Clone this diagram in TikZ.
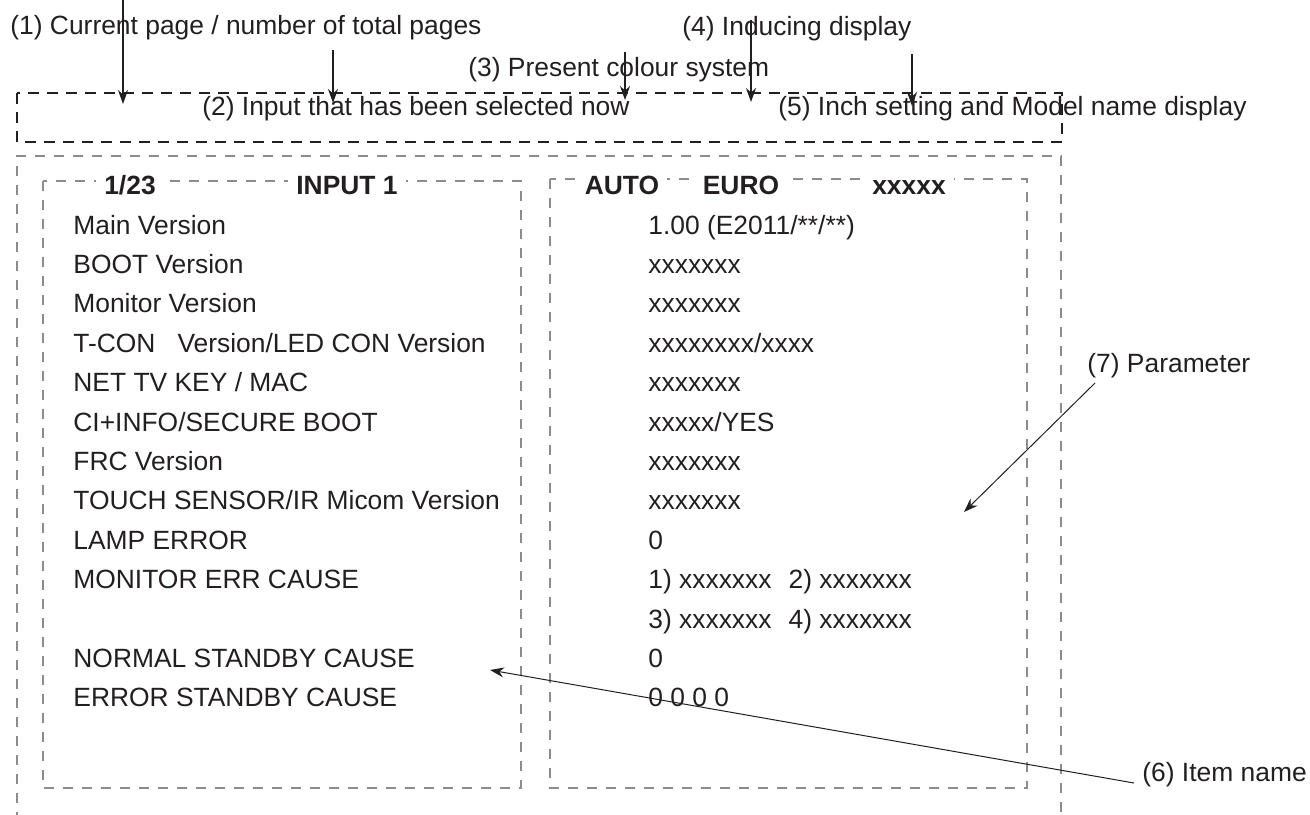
\documentclass[tikz,border=0pt]{standalone}
\usepackage{fontspec}
\setmainfont{Liberation Sans}
\usetikzlibrary{arrows.meta}
\definecolor{boxgray}{RGB}{140,140,140}
\definecolor{ink}{RGB}{35,31,32}

\begin{document}
\begin{tikzpicture}[x=0.5pt,y=-0.5pt,
    txt/.style={anchor=base west,inner sep=0pt,text=ink,font=\fontsize{13.2}{16}\selectfont},
    head/.style={anchor=base,inner xsep=4pt,inner ysep=1pt,fill=white,text=ink,font=\fontsize{13.2}{16}\selectfont\bfseries},
    pointer/.style={ink,line width=0.75pt,-{Stealth[length=7pt,width=5pt]}},
    leader/.style={ink,line width=0.5pt,-{Stealth[length=7pt,width=5pt]}},
    blackdash/.style={ink,line width=1.1pt,dash pattern=on 5.5pt off 4pt},
    graydash/.style={boxgray,line width=0.9pt,dash pattern=on 5pt off 4.5pt}]
  \useasboundingbox (0,0) rectangle (1310,814);

  % screen frames
  \draw[blackdash] (17,93) rectangle (1062,142);
  \draw[graydash] (17,860) -- (17,156) -- (1061,156) -- (1061,860);
  \draw[graydash] (43,181) rectangle (521,788);
  \draw[graydash] (550,179) rectangle (1027,788);

  % header line
  \node[head] (page) at (130,194) {1/23};
  \node[head] (input) at (347,194) {INPUT 1};
  \node[head] (colsys) at (622,194) {AUTO};
  \node[head] (induce) at (741,194) {EURO};
  \node[head] (model) at (909,194) {xxxxx};

  % item names
  \node[txt] (i1) at (73,234) {Main Version};
  \node[txt] (i2) at (73,273.4) {BOOT Version};
  \node[txt] (i3) at (73,312.8) {Monitor Version};
  \node[txt] (i4) at (73,352.2) {T-CON\hspace{11pt}Version/LED CON Version};
  \node[txt] (i5) at (73,391.6) {NET TV KEY / MAC};
  \node[txt] (i6) at (73,431) {CI+INFO/SECURE BOOT};
  \node[txt] (i7) at (73,470.4) {FRC Version};
  \node[txt] (i8) at (73,509.8) {TOUCH SENSOR/IR Micom Version};
  \node[txt] (i9) at (73,549.2) {LAMP ERROR};
  \node[txt] (i10) at (73,588.6) {MONITOR ERR CAUSE};
  \node[txt] (i12) at (73,667.4) {NORMAL STANDBY CAUSE};
  \node[txt] (i13) at (73,706.8) {ERROR STANDBY CAUSE};

  % parameters
  \node[txt] (v1) at (648,234) {1.00 (E2011/**/**)};
  \node[txt] (v2) at (648,273.4) {xxxxxxx};
  \node[txt] (v3) at (648,312.8) {xxxxxxx};
  \node[txt] (v4) at (648,352.2) {xxxxxxxx/xxxx};
  \node[txt] (v5) at (648,391.6) {xxxxxxx};
  \node[txt] (v6) at (648,431) {xxxxx/YES};
  \node[txt] (v7) at (648,470.4) {xxxxxxx};
  \node[txt] (v8) at (648,509.8) {xxxxxxx};
  \node[txt] (v9) at (648,549.2) {0};
  \node[txt] (v10) at (648,588.6) {1) xxxxxxx\hspace{8.5pt}2) xxxxxxx};
  \node[txt] (v11) at (648,628) {3) xxxxxxx\hspace{8.5pt}4) xxxxxxx};
  \node[txt] (v12) at (648,667.4) {0};
  \node[txt] (v13) at (648,706.8) {0 0 0 0};

  % callouts
  \node[txt] (l1) at (10,34) {(1) Current page / number of total pages};
  \node[txt] (l2) at (202,115) {(2) Input that has been selected now};
  \node[txt] (l3) at (468,76) {(3) Present colour system};
  \node[txt] (l4) at (682,35) {(4) Inducing display};
  \node[txt] (l5) at (778,115) {(5) Inch setting and Model name display};
  \node[txt] (l6) at (1142,781) {(6) Item name};
  \node[txt] (l7) at (1087,372) {(7) Parameter};

  \coordinate (a1) at (123,0);    \coordinate (t1) at (123,104);
  \coordinate (a2) at (333,50);   \coordinate (t2) at (333,103);
  \coordinate (a3) at (625,52);   \coordinate (t3) at (625,100);
  \coordinate (a4) at (751,20);   \coordinate (t4) at (751,102);
  \coordinate (a5) at (912,54);   \coordinate (t5) at (912,106);
  \coordinate (a6) at (1134,783); \coordinate (t6) at (490,670);
  \coordinate (a7) at (1095,383); \coordinate (t7) at (964,512);
  \draw[pointer] (a1) -- (t1);
  \draw[pointer] (a2) -- (t2);
  \draw[pointer] (a3) -- (t3);
  \draw[pointer] (a4) -- (t4);
  \draw[pointer] (a5) -- (t5);
  \draw[leader] (a6) -- (t6);
  \draw[leader] (a7) -- (t7);
\end{tikzpicture}
\end{document}
